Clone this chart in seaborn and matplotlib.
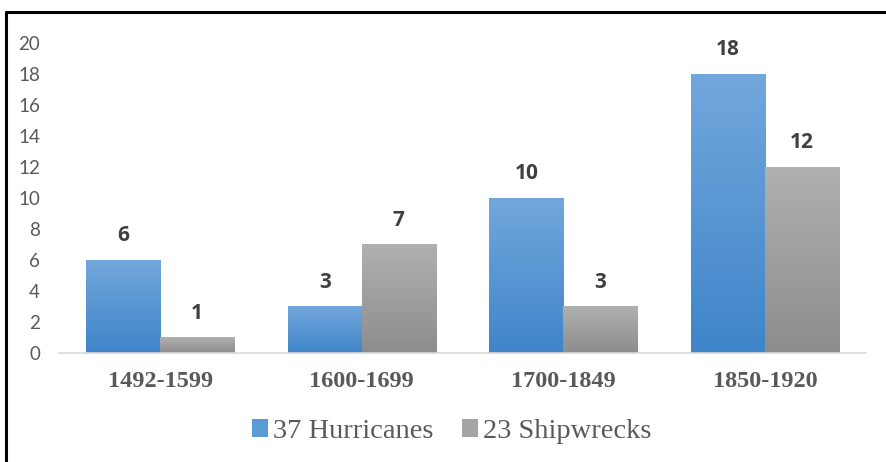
import pandas as pd
import matplotlib.pyplot as plt
import seaborn as sns
import numpy as np
from matplotlib.lines import Line2D
from matplotlib.patches import Patch
from matplotlib.colors import LinearSegmentedColormap

# data
periods = ['1492-1599', '1600-1699', '1700-1849', '1850-1920']
hurricanes = [6, 3, 10, 18]
shipwrecks = [1, 7, 3, 12]
series_names = ['37 Hurricanes', '23 Shipwrecks']

df = pd.DataFrame({
    'Period': periods * 2,
    'Count': hurricanes + shipwrecks,
    'Series': [series_names[0]] * 4 + [series_names[1]] * 4,
})

blue = '#5b9bd5'
grey = '#a5a5a5'
gradients = {
    series_names[0]: ('#72a7dc', '#3f85c9'),
    series_names[1]: ('#b0b0b0', '#8d8d8d'),
}

sns.set_style('white')

fig = plt.figure(figsize=(8.86, 4.62), dpi=100)
ax = fig.add_axes([0.067, 0.236, 0.910, 0.671])

sns.barplot(data=df, x='Period', y='Count', hue='Series', order=periods,
            hue_order=series_names, palette=[blue, grey], width=0.735,
            gap=0, legend=False, saturation=1, ax=ax)

# gradient fill clipped to each bar, plus value labels
for container, name in zip(ax.containers, series_names):
    top_c, bot_c = gradients[name]
    cmap = LinearSegmentedColormap.from_list(name, [bot_c, top_c])
    for bar in container:
        x0, y0 = bar.get_x(), bar.get_y()
        w, h = bar.get_width(), bar.get_height()
        grad = np.linspace(0, 1, 100).reshape(-1, 1)
        im = ax.imshow(grad, cmap=cmap, origin='lower', aspect='auto',
                       extent=[x0, x0 + w, y0, y0 + h], zorder=2)
        im.set_clip_path(bar)
        bar.set_edgecolor('none')
    ax.bar_label(container, padding=10, fontsize=15, fontweight='bold',
                 color='#404040', family='Open Sans')

ax.set_xlim(-0.5, 3.5)
ax.set_ylim(0, 20)
ax.set_yticks(range(0, 21, 2))

sns.despine(ax=ax, left=True)
ax.spines['bottom'].set_color('#d9d9d9')
ax.spines['bottom'].set_linewidth(1.2)
ax.set_xlabel('')
ax.set_ylabel('')
ax.tick_params(axis='y', length=0, pad=14, labelsize=13.5, labelcolor='#595959')
ax.tick_params(axis='x', length=0, pad=13, labelcolor='#595959')
for lab in ax.get_yticklabels():
    lab.set_family('Lato')
for lab in ax.get_xticklabels():
    lab.set_family('Liberation Serif')
    lab.set_fontweight('bold')
    lab.set_fontsize(17.5)

handles = [Patch(facecolor=blue, edgecolor='none'),
           Patch(facecolor=grey, edgecolor='none')]
fig.legend(handles, series_names, loc='center', bbox_to_anchor=(0.510, 0.066),
           ncol=2, frameon=False, handlelength=0.55, handleheight=0.55,
           handletextpad=0.2, columnspacing=1.0,
           prop={'family': 'Liberation Serif', 'size': 20.5}, labelcolor='#595959')

# partial frame around the picture (top and left edges)
fig.add_artist(Line2D([5.5 / 886, 1.0], [1 - 12 / 462] * 2, color='black', lw=2.2))
fig.add_artist(Line2D([6 / 886] * 2, [0, 1 - 12 / 462], color='black', lw=2.2))

plt.savefig('out.png', dpi=100)
